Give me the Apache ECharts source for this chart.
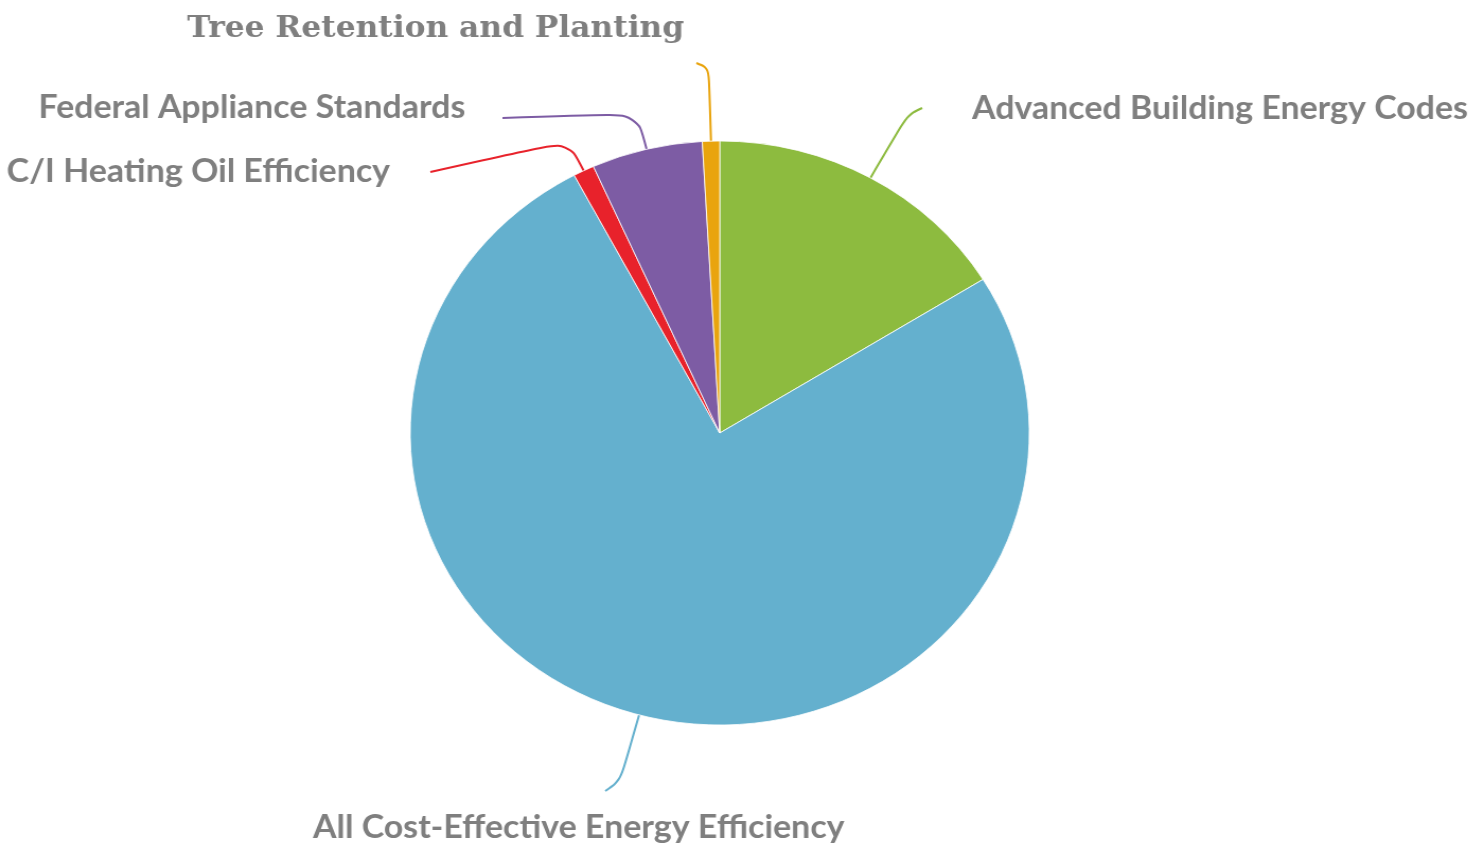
<!DOCTYPE html>
<html><head><meta charset="utf-8">
<script src="https://cdn.jsdelivr.net/npm/echarts@6/dist/echarts.min.js"></script>
<style>
html,body{margin:0;padding:0;background:#fff;overflow:hidden;width:1477px;height:846px}
#chart{width:1440px;height:846px;transform:scaleX(1.06);transform-origin:0 0;}
</style></head><body><div id="chart"></div>
<script>
// ---- data ----
const categories = [
  'Advanced Building Energy Codes',
  'All Cost-Effective Energy Efficiency',
  'C/I Heating Oil Efficiency',
  'Federal Appliance Standards',
  'Tree Retention and Planting'
];
const values = [16.2, 76.1, 1.1, 5.8, 0.9];
const colors = ['#8DBB3F', '#64B0CE', '#E8222B', '#7D5CA4', '#E9A40E'];

// ---- label layout (chart px, before horizontal stretch) ----
const labelX = [917, 546, 368, 439, 411];
const labelY = [109, 828, 172, 108, 29];
const labelAlign = ['left', 'center', 'right', 'right', 'center'];
const lineEndX = [870, 571, 406, 474, 657];
const lineEndY = [108, 791, 172, 118, 63];
const lineLen = [72, 68, 33, 37, 73];
const labelFonts = ['Lato', 'Lato', 'Lato', 'Lato', 'DejaVu Serif'];
const labelSizes = [32, 32, 32, 32, 29.5];

const chart = echarts.init(document.getElementById('chart'), null, {renderer: 'canvas'});
const data = categories.map((name, i) => ({
  name: name,
  value: values[i],
  itemStyle: {color: colors[i]},
  label: {fontFamily: labelFonts[i], fontSize: labelSizes[i]},
  labelLine: {length: lineLen[i], length2: 10}
}));

chart.setOption({
  animation: false,
  backgroundColor: '#ffffff',
  series: [{
    type: 'pie',
    center: [679, 433],
    radius: 292,
    startAngle: 90,
    clockwise: true,
    avoidLabelOverlap: false,
    data: data,
    itemStyle: {borderColor: '#ffffff', borderWidth: 0.8},
    label: {
      show: true,
      position: 'outside',
      formatter: '{b}',
      color: '#7f7f7f',
      fontWeight: 'bold'
    },
    labelLine: {
      show: true,
      smooth: 0.35,
      lineStyle: {width: 2}
    },
    labelLayout: function (p) {
      const i = p.dataIndex;
      const pts = p.labelLinePoints;
      return {
        x: labelX[i],
        y: labelY[i],
        align: labelAlign[i],
        verticalAlign: 'middle',
        labelLinePoints: [pts[0], pts[1], [lineEndX[i], lineEndY[i]]]
      };
    },
    emphasis: {disabled: true}
  }]
});
</script></body></html>
